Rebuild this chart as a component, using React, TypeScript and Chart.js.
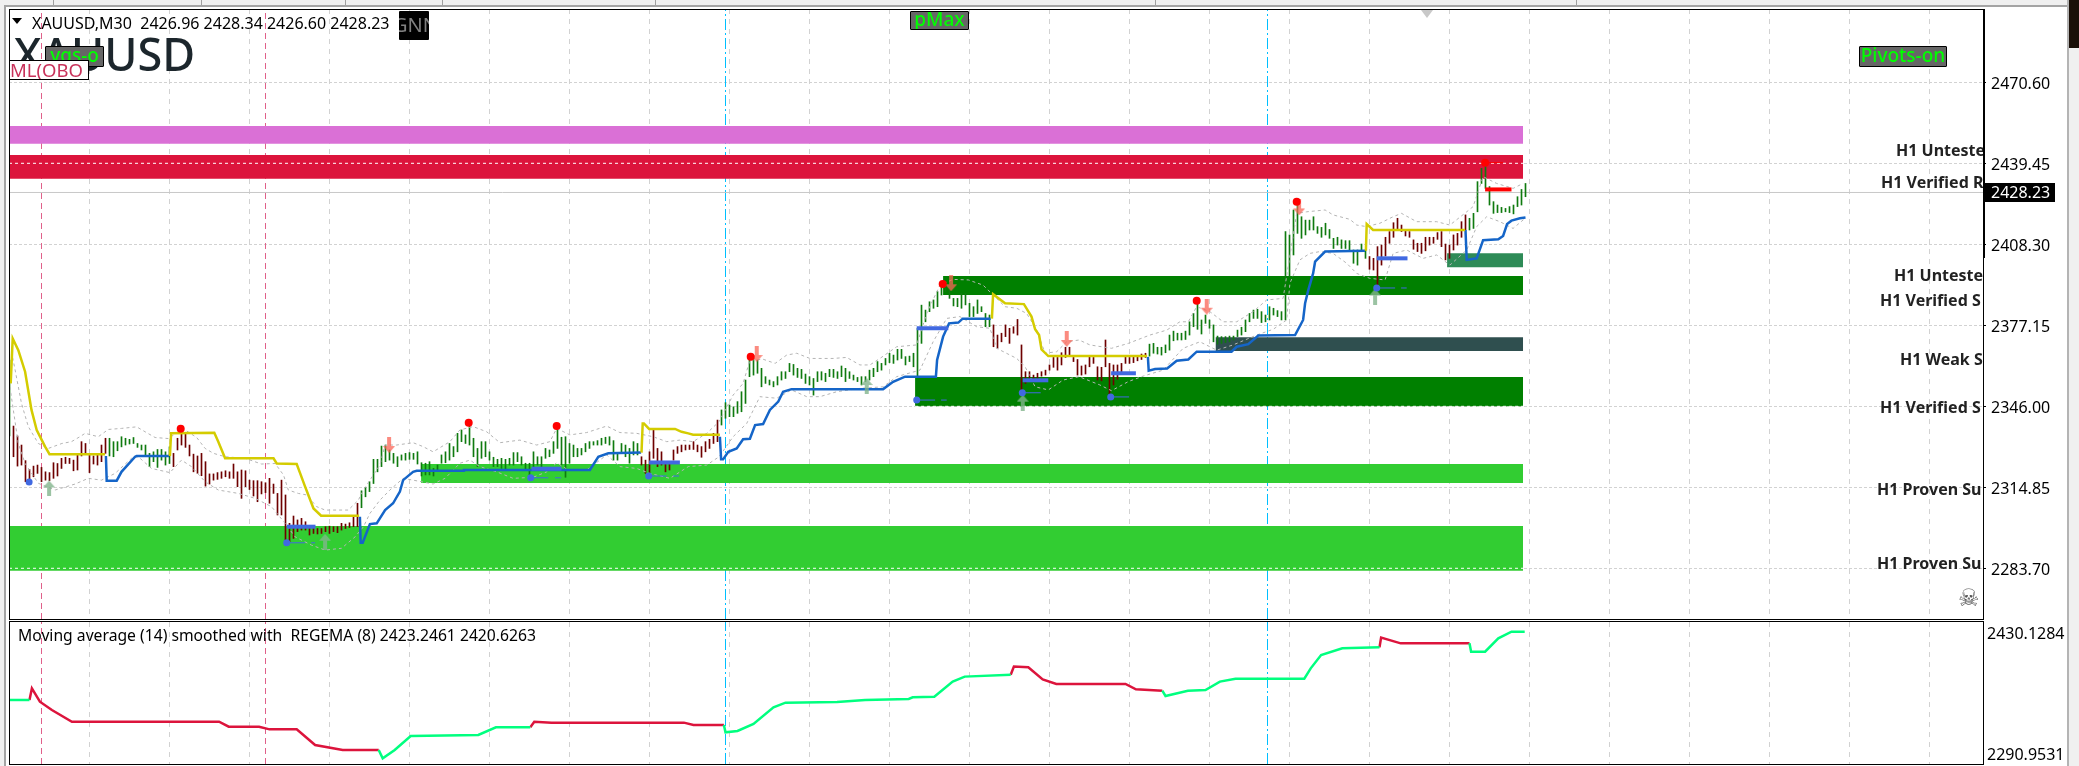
import React, { useEffect, useRef } from "react";
import { Chart, registerables } from "chart.js";

Chart.register(...registerables);

const FONT = '"Noto Sans", sans-serif';

// ---------- axes ----------
const priceTicks = [2470.6, 2439.45, 2408.3, 2377.15, 2346.0, 2314.85, 2283.7];
const timeTicks = [20, 40, 60, 80, 100, 120, 140, 160, 180, 200, 220, 240, 260, 280, 300, 320, 340, 360, 380, 400, 420, 440, 460, 480];
const priceMin = 2264.2;
const priceMax = 2498.79;
const barMin = -0.125;
const barMax = 493.375;
const oscTop = 2430.1284;
const oscBottom = 2290.9531;
const lastPrice = 2428.23;

// ---------- bars ----------
const barHighs = [
  2363.8, 2338.4, 2334.6, 2331.1, 2325.1, 2321.7, 2323.0, 2323.4, 2322.5, 2320.8,
  2320.5, 2324.3, 2324.0, 2326.0, 2326.4, 2326.0, 2325.3, 2327.2, 2332.4, 2331.7,
  2327.2, 2326.9, 2327.2, 2331.1, 2333.7, 2333.7, 2332.4, 2332.4, 2334.3, 2333.7,
  2333.3, 2334.0, 2331.7, 2331.1, 2331.1, 2327.9, 2328.5, 2329.4, 2329.4, 2328.5,
  2330.4, 2327.9, 2333.7, 2337.1, 2335.6, 2331.1, 2327.6, 2326.9, 2327.9, 2324.7,
  2320.0, 2320.0, 2320.5, 2320.8, 2321.2, 2320.8, 2323.8, 2320.8, 2321.5, 2321.2,
  2317.6, 2317.4, 2317.4, 2317.0, 2316.6, 2318.3, 2316.1, 2312.5, 2317.6, 2311.9,
  2301.0, 2303.8, 2302.3, 2302.9, 2301.6, 2299.7, 2299.7, 2299.0, 2299.0, 2299.7,
  2299.9, 2299.7, 2299.7, 2301.0, 2300.7, 2301.2, 2303.3, 2308.7,
  2313.5, 2314.8, 2317.0, 2325.6, 2325.6, 2330.7, 2331.1, 2329.2, 2327.9, 2326.6,
  2327.3, 2327.9, 2328.2, 2327.9, 2328.5, 2324.3, 2324.1, 2324.7, 2322.1, 2323.4,
  2327.3, 2328.5, 2331.7, 2330.5, 2335.6, 2336.9, 2335.0, 2338.8, 2333.7, 2329.8,
  2332.4, 2332.4, 2328.5, 2326.4, 2325.6, 2326.0, 2325.6, 2326.0, 2328.2, 2328.2,
  2326.6, 2324.1, 2324.1, 2328.5, 2326.6, 2326.6, 2329.8, 2329.2, 2332.4, 2338.8,
  2334.1, 2334.3, 2331.7, 2331.1, 2329.8, 2329.8, 2331.7, 2332.4, 2332.4, 2332.8,
  2333.7, 2334.1, 2334.3, 2332.8, 2327.9, 2331.7, 2331.1, 2329.8, 2332.4, 2331.7,
  2326.6, 2325.3, 2328.5, 2336.9, 2329.8, 2328.5, 2324.7, 2324.7, 2329.2, 2330.5,
  2331.1, 2331.1, 2331.1, 2332.4, 2331.1, 2330.5, 2332.4, 2333.3, 2335.6, 2340.7,
  2344.6, 2347.4, 2346.5, 2345.8, 2347.8, 2351.6, 2356.1, 2364.8, 2364.4, 2363.8,
  2360.6, 2357.4, 2356.1, 2355.5, 2357.4, 2359.3, 2359.3, 2362.5, 2362.1, 2360.6,
  2360.2, 2358.4, 2357.4, 2356.7, 2359.3, 2359.3, 2358.7, 2360.2, 2360.2, 2359.3,
  2361.5, 2360.6, 2359.3, 2358.0, 2357.1, 2357.4, 2357.4, 2359.9, 2360.6, 2363.2,
  2362.5, 2364.4, 2366.4, 2365.7, 2367.9, 2367.9, 2365.1, 2365.3, 2366.4, 2376.0,
  2384.9, 2383.0, 2386.2, 2386.9, 2390.1, 2393.3, 2393.9, 2391.4, 2387.5, 2387.5,
  2389.4, 2389.4, 2385.6, 2384.3, 2386.9, 2384.3, 2381.7, 2381.1, 2377.3, 2373.4,
  2374.1, 2377.3, 2376.0, 2376.6, 2379.4, 2369.6, 2359.3, 2359.3, 2358.0, 2358.7,
  2359.3, 2359.9, 2361.9, 2364.8, 2364.8, 2366.6, 2368.7, 2368.7, 2364.8, 2364.0,
  2361.5, 2361.9, 2365.1, 2364.8, 2361.2, 2361.0, 2371.5, 2362.5, 2361.9, 2361.9,
  2362.5, 2365.1, 2364.8, 2365.3, 2365.3, 2366.1, 2366.4, 2369.9, 2370.2, 2368.7,
  2368.7, 2369.6, 2373.4, 2374.9, 2374.1, 2374.1, 2374.9, 2378.5, 2381.7, 2385.6,
  2379.2, 2381.1, 2379.2, 2377.3, 2373.0, 2372.8, 2372.8, 2373.0, 2373.0, 2375.3,
  2376.4, 2379.2, 2381.7, 2383.0, 2383.3, 2382.4, 2381.1, 2384.3, 2383.7, 2382.8,
  2382.4, 2413.2, 2411.9, 2421.5, 2425.3, 2418.9, 2417.6, 2417.6, 2418.9, 2415.1,
  2414.8, 2416.4, 2414.0, 2410.6, 2411.0, 2410.0, 2409.7, 2409.7, 2406.1, 2406.1,
  2408.4, 2406.1, 2403.6, 2402.9, 2407.4, 2408.0, 2411.0, 2413.2, 2416.6, 2418.3,
  2415.7, 2413.8, 2413.2, 2410.0, 2408.7, 2408.7, 2411.0, 2411.0, 2411.0, 2412.8,
  2413.2, 2408.4, 2408.0, 2411.9, 2412.5, 2417.0, 2419.6, 2418.3, 2420.2, 2432.4,
  2437.5, 2440.1, 2430.5, 2424.7, 2423.4, 2422.5, 2422.1, 2422.8, 2423.4, 2426.6,
  2429.4, 2431.7,
];
const barLows = [
  2334.6, 2326.6, 2323.0, 2323.4, 2317.0, 2316.6, 2318.9, 2320.2, 2317.0, 2317.6,
  2317.4, 2318.3, 2319.2, 2322.1, 2324.0, 2324.0, 2321.2, 2321.5, 2326.9, 2327.6,
  2320.5, 2323.8, 2323.4, 2324.7, 2327.9, 2326.9, 2326.6, 2328.9, 2330.4, 2331.1,
  2331.5, 2331.7, 2330.2, 2329.2, 2326.9, 2322.8, 2324.7, 2322.5, 2325.3, 2323.4,
  2324.0, 2322.8, 2329.2, 2331.1, 2330.2, 2326.9, 2320.8, 2320.2, 2319.3, 2315.3,
  2316.1, 2317.6, 2317.9, 2318.3, 2318.9, 2318.3, 2318.3, 2315.1, 2310.6, 2315.1,
  2314.0, 2311.5, 2309.3, 2312.3, 2312.8, 2308.7, 2312.5, 2304.2, 2304.2, 2293.3,
  2293.9, 2295.2, 2297.8, 2298.4, 2298.4, 2296.5, 2297.1, 2296.9, 2297.1, 2297.8,
  2297.1, 2297.8, 2297.4, 2298.4, 2299.0, 2299.4, 2299.7, 2299.7,
  2307.0, 2311.2, 2313.2, 2316.3, 2320.8, 2322.8, 2324.7, 2325.3, 2324.1, 2322.8,
  2325.3, 2325.3, 2325.6, 2325.6, 2323.8, 2319.2, 2319.6, 2319.6, 2319.2, 2321.5,
  2324.1, 2324.3, 2325.3, 2326.6, 2328.5, 2332.4, 2331.7, 2331.1, 2326.6, 2322.8,
  2326.0, 2326.6, 2325.3, 2322.8, 2322.8, 2322.1, 2321.5, 2323.4, 2323.4, 2324.7,
  2323.4, 2321.5, 2318.3, 2322.1, 2323.4, 2322.1, 2326.0, 2326.6, 2327.9, 2329.8,
  2323.4, 2318.7, 2324.1, 2326.6, 2326.6, 2327.3, 2328.5, 2329.8, 2331.1, 2331.1,
  2331.1, 2331.7, 2331.1, 2325.3, 2325.3, 2328.5, 2326.6, 2324.1, 2327.3, 2327.3,
  2323.4, 2320.2, 2320.2, 2326.0, 2322.8, 2323.4, 2320.8, 2321.5, 2325.3, 2327.9,
  2328.5, 2329.2, 2329.4, 2329.4, 2328.5, 2326.4, 2328.5, 2329.8, 2331.7, 2332.4,
  2338.8, 2341.4, 2342.0, 2342.0, 2343.3, 2343.9, 2347.1, 2357.4, 2358.0, 2358.7,
  2353.5, 2354.8, 2354.2, 2353.5, 2354.2, 2356.1, 2356.7, 2359.3, 2358.0, 2357.1,
  2356.7, 2354.8, 2354.2, 2350.3, 2355.5, 2356.1, 2355.5, 2357.4, 2357.1, 2356.7,
  2357.4, 2355.5, 2356.7, 2356.1, 2355.5, 2354.2, 2355.5, 2356.1, 2357.4, 2359.3,
  2359.9, 2361.9, 2362.8, 2362.5, 2363.8, 2364.4, 2361.9, 2363.2, 2361.2, 2357.4,
  2370.2, 2378.5, 2382.4, 2383.7, 2384.3, 2388.8, 2390.1, 2387.5, 2384.6, 2384.3,
  2383.7, 2385.0, 2380.5, 2380.5, 2381.7, 2382.4, 2376.6, 2376.6, 2368.9, 2368.3,
  2370.8, 2372.8, 2370.2, 2374.1, 2373.4, 2351.0, 2354.8, 2356.1, 2356.1, 2356.7,
  2357.6, 2358.0, 2359.9, 2361.0, 2359.9, 2361.9, 2364.8, 2365.7, 2363.2, 2358.0,
  2358.0, 2358.4, 2361.2, 2362.5, 2356.1, 2355.8, 2361.2, 2349.7, 2354.2, 2356.4,
  2358.7, 2362.5, 2362.5, 2362.8, 2363.5, 2364.0, 2364.8, 2365.3, 2366.4, 2366.1,
  2365.7, 2366.6, 2367.6, 2371.2, 2371.5, 2371.5, 2371.7, 2373.4, 2376.6, 2375.6,
  2373.8, 2377.9, 2376.0, 2370.8, 2369.9, 2370.2, 2370.5, 2370.8, 2371.5, 2372.8,
  2373.4, 2374.7, 2378.5, 2379.8, 2379.8, 2378.2, 2378.5, 2379.2, 2381.1, 2380.5,
  2379.2, 2379.2, 2395.8, 2404.2, 2412.5, 2410.6, 2411.9, 2413.8, 2413.8, 2412.5,
  2411.0, 2411.9, 2410.6, 2406.7, 2408.0, 2406.7, 2406.7, 2406.1, 2401.0, 2400.3,
  2405.5, 2402.9, 2398.7, 2398.4, 2392.6, 2400.3, 2403.8, 2408.7, 2411.0, 2414.0,
  2413.2, 2411.5, 2411.0, 2406.4, 2405.5, 2404.8, 2405.8, 2408.0, 2408.7, 2410.2,
  2407.4, 2402.3, 2402.9, 2406.1, 2408.0, 2411.0, 2413.8, 2413.8, 2414.4, 2420.8,
  2431.7, 2429.8, 2423.4, 2420.2, 2420.5, 2420.5, 2420.8, 2420.5, 2420.0, 2422.8,
  2423.4, 2426.6,
];
const bullRanges = [[0, 0], [25, 40], [88, 157], [178, 245], [285, 339], [365, 379]];

// ---------- zones: [first bar, last bar, top, bottom] ----------
const zoneLast = 378.4;
const zoneOrchid = [-0.125, zoneLast, 2453.8, 2447.0];
const zoneCrimson = [-0.125, zoneLast, 2442.64, 2433.5];
const zoneDarkUpper = [233.4, zoneLast, 2396.1, 2388.8];
const zoneSlate = [301.5, zoneLast, 2372.6, 2367.3];
const zoneDarkLower = [226.4, zoneLast, 2357.3, 2346.0];
const zoneLimeUpper = [102.9, zoneLast, 2323.8, 2316.5];
const zoneLimeLower = [-0.125, zoneLast, 2300.0, 2282.8];
const zoneSea = [359.4, zoneLast, 2404.9, 2399.5];

// ---------- trend lines ----------
const yellowLine = [
  [[0.3, 2354.8], [0.8, 2372.1], [2.2, 2367.6], [3.9, 2359.3], [5.5, 2344.6], [6.8, 2336.9], [8.9, 2330.5], [10, 2327.6], [23.9, 2327.6]],
  [[40.1, 2326.9], [40.4, 2335.6], [51.2, 2335.8], [52.2, 2332.4], [53.9, 2326], [66, 2326], [66.8, 2324], [71.8, 2323.8], [72.6, 2320.5], [73.9, 2315.1], [74.3, 2313.5], [76, 2306.7], [77.9, 2303.9], [87.4, 2303.9]],
  [[158, 2328.2], [158.3, 2339.4], [158.6, 2339.4], [159.9, 2337.3], [166.4, 2337.3], [168, 2336.2], [169.7, 2335.6], [170.9, 2335.1], [177.6, 2335.1]],
  [[245.6, 2379.7], [245.9, 2389.1], [248.9, 2385.6], [253.6, 2385.3], [255.5, 2380.5], [256.4, 2375.6], [257.4, 2373.4], [258, 2367.9], [259.7, 2365.3], [284.4, 2365.3]],
  [[339.1, 2405.8], [339.3, 2416.1], [340.9, 2413.8], [363.9, 2413.8]],
];
const blueLine = [
  [[24.1, 2326.9], [24.3, 2317.4], [26.8, 2317.4], [28, 2320.8], [31.4, 2326.6], [31.8, 2326.9], [39.9, 2326.9]],
  [[87.6, 2303.5], [87.8, 2293.5], [88.3, 2293.5], [90.1, 2300.7], [91.8, 2301], [93.9, 2306.1], [95.9, 2308.7], [97.6, 2313.2], [98.4, 2317.6], [100.9, 2320.8], [101.8, 2321.2], [113.4, 2321.2], [113.6, 2321.5], [145.1, 2321.5], [147.2, 2326.6], [149.7, 2327.9], [157.9, 2328.2]],
  [[177.6, 2334.3], [177.9, 2325.6], [178.4, 2325.6], [179.7, 2328.5], [181.8, 2329.8], [183.4, 2333.3], [185.1, 2333.5], [186.4, 2338.8], [188.4, 2339.2], [190.1, 2344.6], [192.2, 2347.8], [193.4, 2351.6], [195.5, 2352.6], [218.4, 2352.6], [220.9, 2355.4], [223.9, 2357.4], [231.6, 2357.4], [231.9, 2363.8], [233.4, 2372.8], [234.9, 2377.9], [237.2, 2378.2], [238.3, 2379.7], [245.3, 2379.7]],
  [[284.6, 2365], [284.8, 2359.7], [286.4, 2360.3], [289.4, 2360.5], [291.8, 2363.5], [294.7, 2364], [296.8, 2367], [305.5, 2367], [306.8, 2368.9], [309.7, 2369.9], [312.2, 2373.2], [321.4, 2373.4], [323.4, 2379.2], [323.9, 2385.6], [324.7, 2390.7], [325.9, 2397.1], [326.4, 2401.6], [328.9, 2405.5], [338.9, 2405.8]],
  [[364, 2413.8], [364.3, 2402.3], [366.8, 2402.9], [368.4, 2409.9], [372.2, 2410.2], [373.4, 2411.5], [374.4, 2416.1], [375.5, 2417.4], [377.6, 2418.3], [379, 2418.6]],
];

// ---------- envelope ----------
const upperBand = [
  [0.5, 2367], [1.4, 2360], [3, 2347.1], [4.7, 2338.2], [7.2, 2331.7], [9.7, 2329.8], [13.1, 2331.7], [15.5, 2332.4], [17.6, 2334.3], [18.9, 2335.6], [22.2, 2334.3], [24.7, 2337.1], [28, 2337.5], [31.8, 2338.1], [33.9, 2336.2], [36.4, 2334], [39.7, 2333.6], [42.2, 2336.2], [43.9, 2336.9], [46.8, 2334], [48.9, 2329.8], [51, 2327.9], [53.9, 2326.6], [58.9, 2326], [63, 2323.8], [66.4, 2324], [68.5, 2319.6], [69.7, 2313.8], [72.2, 2312.5], [74.3, 2311.9], [76.8, 2307.4], [78.9, 2306.1], [84.7, 2306.1], [87.2, 2309.9], [88.5, 2313.8],
  [90.1, 2317.6], [92.6, 2323.4], [93.9, 2331.1], [96.8, 2331.1], [100.9, 2332], [103.4, 2330.5], [105.9, 2328.5], [110.1, 2332.4], [112.6, 2336.9], [115.9, 2338.2], [119.3, 2336.2], [122.6, 2332], [127.6, 2333], [131.8, 2331.1], [135.1, 2332.4], [136.8, 2337.5], [140.1, 2335], [144.3, 2335.9], [149.3, 2338.4], [152.6, 2335.9], [156.8, 2335.6], [160.9, 2334.3], [164.3, 2332.4], [167.6, 2333], [170.9, 2332.4], [174.3, 2335.6], [177.4, 2340.1],
  [180.9, 2350.3], [183.4, 2354.8], [185.1, 2363.8], [188.4, 2364.1], [191.4, 2362.5], [194.3, 2365.7], [196.8, 2366.4], [200.1, 2364.4], [205.9, 2364.4], [209.3, 2364.8], [212.6, 2361.9], [215.1, 2361.9], [217.6, 2364.4], [221.8, 2368.9], [226.8, 2369.6], [229.3, 2381.7], [232.6, 2392.6], [235.9, 2394.8], [239.7, 2394.6], [243.4, 2392.6], [245.9, 2388.8], [248.9, 2384.3], [251.8, 2383.7], [254.3, 2381.7], [256.8, 2375.3], [258.9, 2366.4], [261.8, 2367], [264.3, 2370.8], [267.4, 2371.5],
  [270.1, 2369.6], [275.5, 2368.3], [279.7, 2370.2], [285.1, 2373.4], [289.3, 2375.3], [292.6, 2378.5], [294.7, 2378.5], [296.8, 2384.3], [300.1, 2382.4], [303.4, 2378.5], [306.8, 2378.5], [310.9, 2382.4], [314.3, 2386.9], [318.4, 2387.5],
  [321.8, 2420.2], [324.3, 2420.8], [328.9, 2421.5], [330.9, 2419.6], [335.1, 2417.9], [336.8, 2415.7], [339.3, 2415.1], [342.6, 2416.4], [345.9, 2418.9], [348, 2420.2], [351.8, 2417], [356.8, 2417], [360.1, 2415.7], [364.3, 2420.8], [365.9, 2422.8], [368.4, 2434.3], [371.8, 2431.7], [375.9, 2429.8], [378.4, 2431.7],
];
const lowerBand = [
  [0.1, 2353.5], [2.2, 2331.7], [3.9, 2324], [7.2, 2316.4], [11.4, 2313.8], [16.4, 2316.1], [19.7, 2318.3], [23, 2317.6], [26.4, 2320.2], [30.5, 2326], [32.2, 2326.6], [35.5, 2322.1], [40.1, 2320.5], [43, 2325.3], [45.5, 2322.8], [48.9, 2317], [52.2, 2313.8], [57.2, 2312.5], [61.4, 2310.6], [65.5, 2307.4], [68.9, 2301], [71.4, 2295.8], [75.5, 2292.6], [78.9, 2290.7], [83, 2291.4], [86.4, 2295.8], [88.5, 2299.7],
  [90.1, 2304.8], [92.6, 2309.9], [95.1, 2313.8], [98.4, 2318.3], [103, 2317], [105.9, 2316.1], [108.9, 2318.3], [112.6, 2324.1], [115.1, 2325.3], [117.6, 2322.8], [121.8, 2320.8], [125.9, 2318.3], [130.9, 2318.7], [134.3, 2320.8], [136.8, 2324.3], [139.7, 2321.5], [144.3, 2321.5], [149.3, 2327.3], [152.6, 2322.8], [156.8, 2322.1], [160.1, 2320.2], [165.1, 2318.3], [169.7, 2322.8], [174.3, 2323.4], [177.4, 2326.6],
  [180.9, 2334.3], [184.3, 2339.4], [187.6, 2349.7], [191.8, 2349.1], [195.5, 2352.3], [199.3, 2349.7], [202.6, 2349.7], [206.8, 2351.6], [212.6, 2352.9], [218.4, 2353.5], [221.8, 2357.4], [227.6, 2359.9], [230.9, 2370.8], [234.3, 2379.8], [237.6, 2380.5], [241.8, 2376.6], [245.1, 2376], [246.8, 2368.3], [251.8, 2364.4], [253.9, 2361.2], [256.4, 2353.5], [259.7, 2352.3], [263.4, 2356.1], [267.4, 2357.4],
  [272.6, 2354.2], [275.5, 2352], [279.7, 2355.5], [283.4, 2357.6], [288.4, 2359.9], [293.4, 2368.3], [297.6, 2370.8], [301.8, 2367.6], [305.9, 2369.6], [311.8, 2373.4], [315.9, 2375.6], [319.3, 2379.2],
  [320.1, 2393.3], [322.6, 2402.3], [325.1, 2404.8], [327.6, 2405.5], [330.9, 2404.8], [334.3, 2401], [336.8, 2397.1], [340.1, 2395.2], [343.9, 2394.6], [345.9, 2404.8], [349.3, 2406.1], [353.4, 2402.9], [356.8, 2404.2], [360.1, 2400.3], [364.3, 2406.1], [366.8, 2415.1], [369.3, 2418.9], [372.6, 2417], [375.9, 2414.4], [378.9, 2418.3],
];

// ---------- levels and signals ----------
const thickBlueLevels = [
  [69.3, 76.5, 2299.7], [130.5, 138, 2322], [159.9, 167.6, 2324.4], [226.8, 234.7, 2376], [253.3, 259.7, 2356], [275.4, 281.6, 2358.7], [341.8, 349.5, 2402.9],
];
const thickRedLevels = [[368.9, 375.5, 2429.4]];
const thinBlueLevels = [
  [69.3, 73.9, 2293.5], [75.4, 76.4, 2293.5], [130.3, 134.7, 2318.5], [136.4, 137.9, 2318.5], [159.8, 164.3, 2319.2], [165.9, 167.4, 2319.2],
  [226.8, 231.4, 2348.4], [232.9, 234.3, 2348.4], [253.2, 257.8, 2351.2], [275.3, 279.9, 2349.6], [341.8, 346.4, 2391.5], [347.9, 349.3, 2391.5],
];
const thinRedLevels = [[368.9, 373.4, 2439.7]];
const blueDots = [[4.9, 2316.9], [69.3, 2293.5], [130.3, 2318.5], [159.8, 2319.2], [226.8, 2348.4], [253.2, 2351.2], [275.3, 2349.6], [341.8, 2391.5]];
const redDots = [[42.8, 2337.4], [114.8, 2339.7], [136.8, 2338.4], [185.3, 2365.1], [233.3, 2393], [296.8, 2386.6], [321.8, 2424.7], [368.9, 2439.7]];
const downArrows = [[94.9, 2331.1], [186.8, 2366.1], [235.4, 2393.3], [264.3, 2371.9], [299.3, 2384.3], [322.4, 2422.5]];
const upArrows = [[9.9, 2314.4], [78.9, 2293.9], [214.3, 2353.8], [253.3, 2347.4], [341.4, 2388.2]];
const pinkSessions = [8, 64];
const cyanSessions = [179, 314.5];

// ---------- oscillator ----------
const oscGreen = [
  [[0, 2353.7], [5, 2353.7]],
  [[92.3, 2304.7], [93.3, 2296.5], [96.3, 2304.7], [100.3, 2318.4], [117.2, 2319.4], [121.6, 2326.9], [130.2, 2326.9]],
  [[178.6, 2329.2], [179, 2322], [182, 2323.3], [186, 2330.2], [191, 2346.5], [194, 2351.1], [206.9, 2351.7], [213.9, 2353.7], [224.8, 2354.7], [225.8, 2356.3], [231.2, 2356.9], [235.8, 2371.7], [238.8, 2376.6], [250.3, 2378.5]],
  [[288.2, 2362.8], [289, 2357.6], [294.6, 2362.8], [299, 2363.5], [302.6, 2371.7], [306.5, 2374.6], [323.7, 2374.6], [325.3, 2384.7], [327.9, 2397.8], [333.2, 2404.3], [342.5, 2405.3]],
  [[365, 2409.2], [365.4, 2401], [368.9, 2401], [372.2, 2414.1], [375.5, 2420.6], [378.8, 2420.6]],
];
const oscRed = [
  [[5, 2353.7], [5.6, 2365.1], [7.6, 2352], [10.6, 2343.9], [15.6, 2332.4], [52.4, 2332.4], [54.8, 2327.5], [62.4, 2327.5], [65, 2324.9], [71.8, 2324.9], [76.4, 2309.6], [83.3, 2304.7], [92.3, 2304.7]],
  [[130.2, 2326.9], [131.2, 2332.4], [135.5, 2331.5], [168.6, 2331.5], [171, 2329.2], [178.6, 2329.2]],
  [[250.3, 2378.5], [251.1, 2386.4], [254.7, 2385.7], [258.3, 2373.9], [261.7, 2369.4], [279, 2369.4], [281.6, 2364.1], [288.2, 2362.8]],
  [[342.5, 2405.3], [342.9, 2414.8], [347.8, 2409.2], [365, 2409.2]],
];

// ---------- text ----------
const headerText = "XAUUSD,M30  2426.96 2428.34 2426.60 2428.23";
const symbolText = "XAUUSD";
const oscTitle = "Moving average (14) smoothed with  REGEMA (8) 2423.2461 2420.6263";
const zoneTexts = [
  { t: "H1 Unteste", x: 1896, y: 150 },
  { t: "H1 Verified R", x: 1881, y: 182 },
  { t: "H1 Unteste", x: 1894, y: 275 },
  { t: "H1 Verified S", x: 1880, y: 300 },
  { t: "H1 Weak S", x: 1900, y: 359 },
  { t: "H1 Verified S", x: 1880, y: 407 },
  { t: "H1 Proven Su", x: 1877, y: 489 },
  { t: "H1 Proven Su", x: 1877, y: 563 },
];

type Pt = number[];
const pts = (a: Pt[]) => a.map(([x, y]) => ({ x, y }));
const line = (data: Pt[], color: string, width: number, order: number, dash: number[] = []) => ({
  type: "line" as const,
  data: pts(data),
  borderColor: color,
  borderWidth: width,
  borderDash: dash,
  pointRadius: 0,
  tension: 0,
  fill: false,
  order,
});
const level = (l: number[]): Pt[] => [[l[0], l[2]], [l[1], l[2]]];

function zone(z: number[], color: string) {
  const [a, b, top, bottom] = z;
  return [
    { type: "line" as const, data: pts([[a, top], [b, top]]), borderWidth: 0, pointRadius: 0, backgroundColor: color, fill: "+1", order: 10 },
    { type: "line" as const, data: pts([[a, bottom], [b, bottom]]), borderWidth: 0, pointRadius: 0, fill: false, order: 10 },
  ];
}

function arrowImage(color: string, up: boolean) {
  const c = document.createElement("canvas");
  c.width = 12;
  c.height = 16;
  const g = c.getContext("2d")!;
  if (!up) {
    g.translate(0, 16);
    g.scale(1, -1);
  }
  g.fillStyle = color;
  g.beginPath();
  g.moveTo(6, 0);
  g.lineTo(12, 7);
  g.lineTo(8, 7);
  g.lineTo(8, 16);
  g.lineTo(4, 16);
  g.lineTo(4, 7);
  g.lineTo(0, 7);
  g.closePath();
  g.fill();
  return c;
}

function isBull(i: number) {
  return bullRanges.some(([a, b]) => i >= a && i <= b);
}

function barSet(bull: boolean, color: string) {
  const data: { x: number; y: number[] }[] = [];
  barHighs.forEach((h, i) => {
    if (isBull(i) === bull) data.push({ x: i, y: [barLows[i], h] });
  });
  return { type: "bar" as const, data, backgroundColor: color, barThickness: 1, order: 5, grouped: false };
}

function fixedX() {
  return {
    type: "linear" as const,
    min: barMin,
    max: barMax,
    offset: false,
    afterBuildTicks: (s: any) => {
      s.ticks = timeTicks.map((value) => ({ value }));
    },
    afterFit: (s: any) => {
      s.height = 0;
    },
    ticks: { display: false },
    grid: { color: "#d2d2d2", drawTicks: false, offset: false },
    border: { display: false, dash: [5, 5] },
  };
}

// keeps the plot rectangle at the measured place, whatever room the tick labels ask for
const pinPlot = (top: number, bottom: number) => ({
  id: "pinPlot",
  afterLayout(c: any) {
    const a = c.chartArea;
    a.left = 9; a.right = 1983; a.top = top; a.bottom = bottom; a.width = 1974; a.height = bottom - top;
    const y = c.scales.y;
    y.top = top; y.bottom = bottom; y.height = bottom - top; y.left = 1983; y.right = 2079; y.width = 96;
    y.configure();
    const x = c.scales.x;
    x.left = 9; x.right = 1983; x.width = 1974; x.top = bottom; x.bottom = bottom; x.height = 0;
    x.configure();
  },
});

const box = (s: React.CSSProperties): React.CSSProperties => ({ position: "absolute", boxSizing: "border-box", ...s });

export default function App() {
  const mainRef = useRef<HTMLCanvasElement>(null);
  const subRef = useRef<HTMLCanvasElement>(null);

  useEffect(() => {
    const sessions = (list: number[], color: string, dash: number[], lo: number, hi: number) =>
      list.map((x) => line([[x, lo], [x, hi]], color, 1, 12, dash));

    const main = new Chart(mainRef.current!, {
      type: "line",
      plugins: [pinPlot(9, 619)],
      data: {
        datasets: [
          ...sessions(pinkSessions, "#e0608a", [6, 4], priceMin, priceMax),
          ...sessions(cyanSessions, "#00bfff", [11, 3, 2, 3], priceMin, priceMax),
          line([[barMin, lastPrice], [barMax, lastPrice]], "#c8c8c8", 1, 11),
          ...zone(zoneOrchid, "#da70d6"),
          ...zone(zoneCrimson, "#dc143c"),
          ...zone(zoneDarkUpper, "#008000"),
          ...zone(zoneSlate, "#2f4f4f"),
          ...zone(zoneDarkLower, "#008000"),
          ...zone(zoneLimeUpper, "#32cd32"),
          ...zone(zoneLimeLower, "#32cd32"),
          ...zone(zoneSea, "#2e8b57"),
          line([[zoneCrimson[0], priceTicks[1]], [zoneLast, priceTicks[1]]], "#ffffff", 1, 9, [3, 3]),
          line([[zoneDarkLower[0], priceTicks[4]], [zoneLast, priceTicks[4]]], "#ffffff", 1, 9, [3, 3]),
          line([[zoneLimeLower[0], priceTicks[6]], [zoneLast, priceTicks[6]]], "#ffffff", 1, 9, [3, 3]),
          barSet(true, "#0f7a0f"),
          barSet(false, "#6e0000"),
          line(upperBand, "#b4b4b4", 1, 4, [3, 3]),
          line(lowerBand, "#b4b4b4", 1, 4, [3, 3]),
          ...yellowLine.map((s) => line(s, "#d4cc00", 2.5, 3)),
          ...blueLine.map((s) => line(s, "#1565c8", 2.5, 3)),
          ...thickBlueLevels.map((l) => line(level(l), "#4169e1", 4, 2)),
          ...thickRedLevels.map((l) => line(level(l), "#ff0000", 4, 2)),
          ...thinBlueLevels.map((l) => line(level(l), "#4169e1", 1, 2)),
          ...thinRedLevels.map((l) => line(level(l), "#ff0000", 1, 2)),
          { type: "line" as const, data: pts(blueDots), showLine: false, pointRadius: 3.5, pointBackgroundColor: "#4169e1", pointBorderWidth: 0, order: 1 },
          { type: "line" as const, data: pts(redDots), showLine: false, pointRadius: 4, pointBackgroundColor: "#ff0000", pointBorderWidth: 0, order: 1 },
          { type: "line" as const, data: pts(downArrows), showLine: false, pointStyle: arrowImage("rgba(250,100,85,0.75)", false), order: 1 },
          { type: "line" as const, data: pts(upArrows), showLine: false, pointStyle: arrowImage("rgba(130,180,140,0.8)", true), order: 1 },
        ] as any,
      },
      options: {
        responsive: false,
        animation: false,
        devicePixelRatio: 1,
        events: [],
        layout: { padding: { left: 9, top: 9, right: 0, bottom: 1 } },
        plugins: { legend: { display: false }, tooltip: { enabled: false } },
        scales: {
          x: fixedX(),
          y: {
            type: "linear",
            position: "right",
            min: priceMin,
            max: priceMax,
            afterBuildTicks: (s: any) => {
              s.ticks = priceTicks.map((value) => ({ value }));
            },
            afterFit: (s: any) => {
              s.width = 96;
              s.paddingTop = 0;
              s.paddingBottom = 0;
            },
            ticks: {
              autoSkip: false,
              padding: 5,
              labelOffset: 2,
              color: "#000",
              font: { family: FONT, size: 16 },
              callback: (v: any) => Number(v).toFixed(2),
            },
            grid: { color: "#d2d2d2", tickColor: "#000", tickLength: 3 },
            border: { display: true, color: "#000", dash: [3, 2] },
          },
        },
      } as any,
    });

    const sub = new Chart(subRef.current!, {
      type: "line",
      plugins: [pinPlot(2, 144)],
      data: {
        datasets: [
          ...sessions(pinkSessions, "#e0608a", [6, 4], oscBottom, oscTop),
          ...sessions(cyanSessions, "#00bfff", [11, 3, 2, 3], oscBottom, oscTop),
          ...oscGreen.map((s) => line(s, "#00ff7f", 2.5, 3)),
          ...oscRed.map((s) => line(s, "#dc143c", 2.5, 3)),
        ] as any,
      },
      options: {
        responsive: false,
        animation: false,
        devicePixelRatio: 1,
        events: [],
        layout: { padding: { left: 9, top: 2, right: 0, bottom: 2 } },
        plugins: { legend: { display: false }, tooltip: { enabled: false } },
        scales: {
          x: fixedX(),
          y: {
            type: "linear",
            position: "right",
            min: oscBottom,
            max: oscTop,
            afterBuildTicks: (s: any) => {
              s.ticks = [oscTop, oscBottom].map((value) => ({ value }));
            },
            afterFit: (s: any) => {
              s.width = 96;
              s.paddingTop = 0;
              s.paddingBottom = 0;
            },
            ticks: {
              autoSkip: false,
              padding: 4,
              labelOffset: 2,
              color: "#000",
              font: { family: FONT, size: 16, lineHeight: "21px" },
              callback: (v: any) => (Number(v) > oscBottom + 1 ? ["", Number(v).toFixed(4)] : [Number(v).toFixed(4), ""]),
            },
            grid: { display: false, drawTicks: false },
            border: { display: true, color: "#000" },
          },
        },
      } as any,
    });

    return () => {
      main.destroy();
      sub.destroy();
    };
  }, []);

  const greyTag = (text: string, left: number, top: number, width: number, height: number) => (
    <div
      style={box({
        left, top, width, height,
        background: "#666666",
        border: "1px solid #000",
        borderRadius: 1,
        color: "#00ff00",
        font: `500 19px ${FONT}`,
        lineHeight: `${height - 4}px`,
        overflow: "hidden",
        whiteSpace: "nowrap",
        textAlign: "center",
      })}
    >
      {text}
    </div>
  );

  return (
    <div style={{ position: "fixed", left: 0, top: 0, width: 2079, height: 766, background: "#fff", overflow: "hidden" }}>
      <canvas ref={mainRef} width={2079} height={620} style={box({ left: 0, top: 0, width: 2079, height: 620 })} />
      <canvas ref={subRef} width={2079} height={146} style={box({ left: 0, top: 620, width: 2079, height: 146 })} />

      {/* window chrome */}
      <div style={box({ left: 0, top: 0, width: 2079, height: 5, background: "#f0f0f0" })} />
      <div style={box({ left: 0, top: 5, width: 2079, height: 2, background: "#a4a4a4" })} />
      {[53, 201, 345, 442, 655, 1155, 1576].map((x) => (
        <div key={x} style={box({ left: x, top: 0, width: 1, height: 5, background: "#a0a0a0" })} />
      ))}
      <div style={box({ left: 0, top: 5, width: 4, height: 761, background: "#f0f0f0" })} />
      <div style={box({ left: 4, top: 5, width: 2, height: 761, background: "#a4a4a4" })} />
      <div style={box({ left: 2067, top: 0, width: 12, height: 766, background: "#f0f0f0", borderLeft: "2px solid #b4b4b4" })} />
      <div style={box({ left: 2069, top: 0, width: 10, height: 48, background: "#1a1008" })} />

      {/* panel frames */}
      <div style={box({ left: 9, top: 9, width: 1975, height: 611, border: "1px solid #000" })} />
      <div style={box({ left: 1983, top: 9, width: 2, height: 249, background: "#000" })} />
      <div style={box({ left: 9, top: 621, width: 1975, height: 144, border: "1px solid #000" })} />
      <div style={box({ left: 1421, top: 10, width: 0, height: 0, borderLeft: "6px solid transparent", borderRight: "6px solid transparent", borderTop: "8px solid #c8c8c8" })} />

      {/* header */}
      <div style={box({ left: 12, top: 18, width: 0, height: 0, borderLeft: "5px solid transparent", borderRight: "5px solid transparent", borderTop: "6px solid #000" })} />
      <div style={box({ left: 32, top: 12, font: `16px ${FONT}`, lineHeight: "22px", whiteSpace: "pre", color: "#000" })}>{headerText}</div>
      <div style={box({ left: 14, top: 26, font: `500 45px ${FONT}`, lineHeight: "56px", color: "#1c262c", whiteSpace: "pre" })}>{symbolText}</div>
      {greyTag("vqs-o", 45, 46, 59, 21)}
      <div style={box({ left: 9, top: 60, width: 80, height: 20, background: "#fff", border: "1px solid #000", color: "#c8325a", font: `18.5px ${FONT}`, lineHeight: "18px", overflow: "hidden", whiteSpace: "nowrap" })}>ML(OBO</div>
      <div style={box({ left: 399, top: 11, width: 30, height: 29, background: "#000", color: "#808080", font: `20px ${FONT}`, lineHeight: "27px", overflow: "hidden", whiteSpace: "nowrap", textAlign: "center", borderRadius: 1 })}>
        <span style={{ marginLeft: -6 }}>GNN</span>
      </div>
      {greyTag("pMax", 910, 11, 59, 19)}
      {greyTag("Pivots-on", 1859, 46, 88, 21)}

      {/* zone captions */}
      {zoneTexts.map((z, i) => (
        <div key={i} style={box({ left: z.x, top: z.y - 11, width: 1983 - z.x, height: 22, font: `bold 16px ${FONT}`, lineHeight: "22px", color: "#222", overflow: "hidden", whiteSpace: "pre" })}>
          {z.t}
        </div>
      ))}
      <div style={box({ left: 1984, top: 183, width: 71, height: 19, background: "#000", color: "#fff", font: `16px ${FONT}`, lineHeight: "19px", paddingLeft: 7 })}>{lastPrice.toFixed(2)}</div>
      <div style={box({ left: 1958, top: 583, font: `24px "DejaVu Sans"`, lineHeight: "30px", color: "#555" })}>☠</div>

      <div style={box({ left: 18, top: 624, font: `15.7px ${FONT}`, lineHeight: "22px", whiteSpace: "pre", color: "#000" })}>{oscTitle}</div>
    </div>
  );
}
